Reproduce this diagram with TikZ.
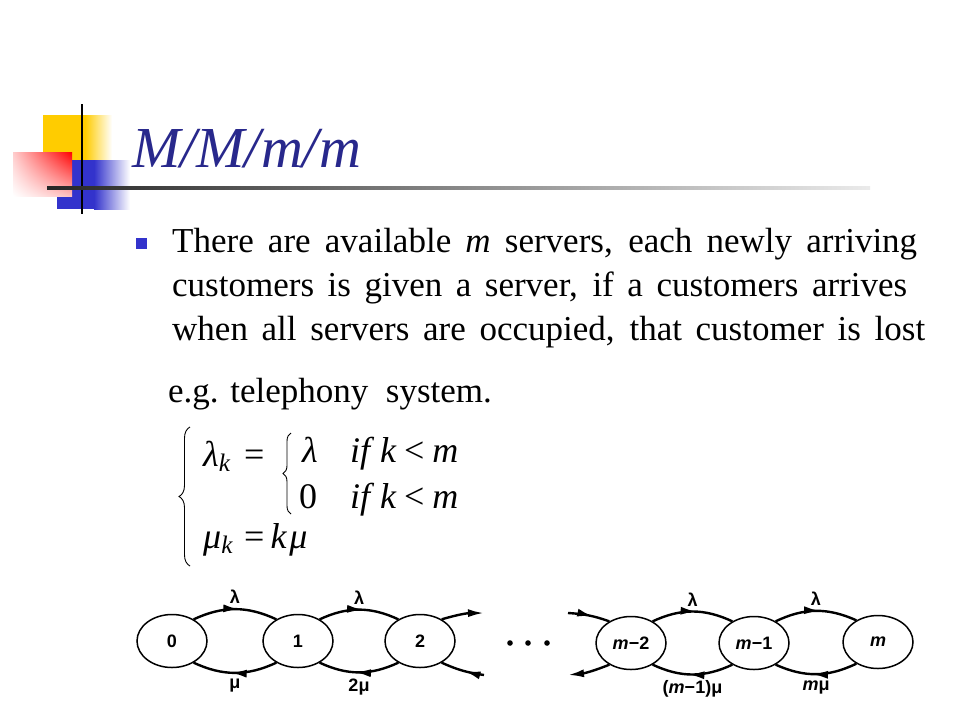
\RequirePackage{fix-cm}
\documentclass[tikz,border=0pt]{standalone}
\usepackage{fontspec}
\setmainfont{Liberation Serif}
\setsansfont{Liberation Sans}
\usetikzlibrary{shapes.geometric,arrows.meta,decorations.markings,decorations.pathreplacing,shadings}

\definecolor{titleblue}{RGB}{40,40,140}
\definecolor{logoblue}{RGB}{51,51,204}
\definecolor{logoyellow}{RGB}{255,204,0}

\begin{document}
\begin{tikzpicture}[x=1pt,y=-1pt,
	state/.style={draw,ellipse,line width=1.5pt,minimum width=70pt,minimum height=53pt,
		font=\fontsize{18}{20}\selectfont\sffamily\bfseries},
	rate/.style={font=\fontsize{18}{20}\selectfont\sffamily\bfseries,inner sep=1pt},
	arc/.style={line width=2.4pt,postaction={decorate},
		decoration={markings,mark=at position #1 with {\arrow{Latex[length=16pt,width=8pt]}}}},
	arc/.default=0.55,
	body/.style={anchor=base west,inner sep=0pt,font=\fontsize{35}{40}\selectfont},
	eqn/.style={anchor=base west,inner sep=0pt,font=\fontsize{36}{40}\selectfont\itshape},
	brace/.style={decorate,decoration={brace,amplitude=#1},line width=0.9pt}
	]
	\fill[white] (0,0) rectangle (960,720);
	\useasboundingbox (0,0) rectangle (960,720);
	
	% logo
	\fill[logoyellow] (43,115) rectangle (86,160);
	\shade[left color=logoyellow,right color=white] (85,115) rectangle (112,160);
	\fill[logoblue] (57,160) rectangle (95,209);
	\shade[left color=logoblue,right color=white] (94,160) rectangle (130,209);
	\shade[upper left=red!20,upper right=red,lower left=white,lower right=red!25] (13,152) rectangle (72,196);
	\draw[line width=2pt] (82,104) -- (82,214);
	\shade[left color=black!85,right color=black!8] (47,186.5) rectangle (870,189.5);
	
	% title and text
	\node[anchor=base west,inner sep=0pt,text=titleblue,font=\fontsize{58}{70}\selectfont\itshape] (title) at (132,167) {M/M/m/m};
	\fill[logoblue] (136,238) rectangle (147,249);
	\node[body] (l1) at (172,252) {\makebox[745pt][s]{There are available \textit{m} servers, each newly arriving}};
	\node[body] (l2) at (172,296) {\makebox[735pt][s]{customers is given a server, if a customers arrives}};
	\node[body] (l3) at (172,340) {\makebox[753pt][s]{when all servers are occupied, that customer is lost}};
	\node[body] (l4) at (168,402) {e.g. telephony\ \ system.};
	
	% rates
	\draw[brace=11pt] (190,566) -- (190,427);
	\draw[brace=8pt] (291,514) -- (291,433);
	\node[eqn] (lamk) at (203,466) {λ\textsubscript{k}};
	\node[eqn] (eq1) at (244,466) {\upshape =};
	\node[eqn] (lam) at (302,462) {λ};
	\node[eqn] (if1) at (350,462) {if\hspace{10pt}k\hspace{8pt}\upshape<\hspace{8pt}\itshape m};
	\node[eqn] (zero) at (299,508) {\upshape 0};
	\node[eqn] (if2) at (350,508) {if\hspace{10pt}k\hspace{8pt}\upshape<\hspace{8pt}\itshape m};
	\node[eqn] (muk) at (203,548) {μ\textsubscript{k}};
	\node[eqn] (eq2) at (244,548) {\upshape =\hspace{6pt}\itshape k\hspace{3pt}μ};
	
	% states
	\node[state] (s0) at (172,641) {0};
	\node[state] (s1) at (298,641) {1};
	\node[state] (s2) at (420,641) {2};
	\node[state] (sm2) at (631,643) {\textit{m}−2};
	\node[state] (sm1) at (754,643) {\textit{m}−1};
	\node[state] (sm) at (878,642) {\textit{m}};
	\coordinate (o2) at (484,613);
	\coordinate (i2) at (484,675);
	\coordinate (om2) at (568,613);
	\coordinate (im2) at (568,675);
	
	\draw[arc] (s0.45) to[bend left=25] node[rate,above=3pt] {λ} (s1.135);
	\draw[arc] (s1.225) to[bend left=25] node[rate,below=4pt] {μ} (s0.315);
	\draw[arc] (s1.45) to[bend left=25] node[rate,above=3pt] {λ} (s2.135);
	\draw[arc] (s2.225) to[bend left=25] node[rate,below=4pt] {2μ} (s1.315);
	\draw[line width=2.4pt,-{Latex[length=16pt,width=8pt]}] (s2.45) to[bend left=8] (o2);
	\draw[arc=0.45] (i2) to[bend left=8] (s2.315);
	\foreach \x in {510,528,547}
		\fill (\x,643) circle (2.8);
	\draw[arc=0.6] (om2) to[bend left=8] (sm2.135);
	\draw[line width=2.4pt,-{Latex[length=16pt,width=8pt]}] (sm2.225) to[bend left=8] (im2);
	\draw[arc] (sm2.45) to[bend left=25] node[rate,above=3pt] {λ} (sm1.135);
	\draw[arc] (sm1.225) to[bend left=25] node[rate,below=4pt] {(\textit{m}−1)μ} (sm2.315);
	\draw[arc] (sm1.45) to[bend left=25] node[rate,above=3pt] {λ} (sm.135);
	\draw[arc] (sm.225) to[bend left=25] node[rate,below=4pt] {\textit{m}μ} (sm1.315);
\end{tikzpicture}
\end{document}
